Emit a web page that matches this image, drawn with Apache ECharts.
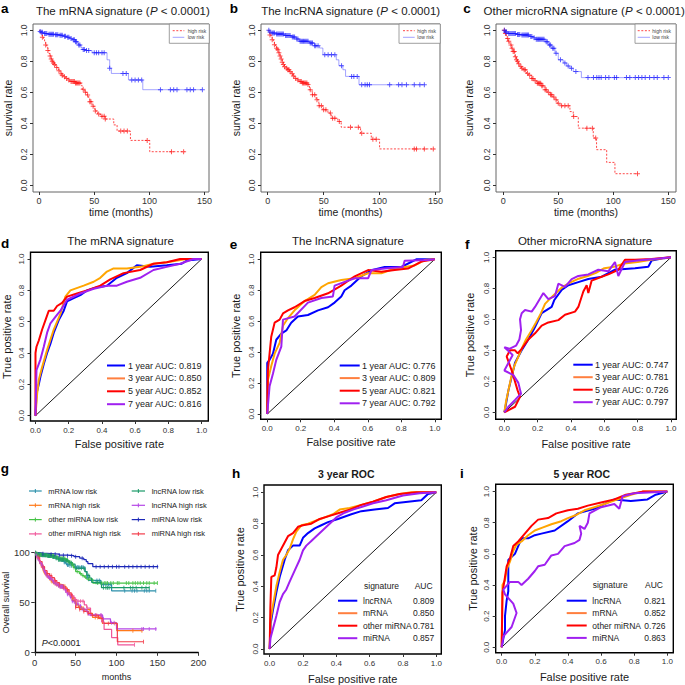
<!DOCTYPE html>
<html>
<head>
<meta charset="utf-8">
<script src="https://cdn.jsdelivr.net/npm/echarts@6.0.0/dist/echarts.min.js"></script>
<style>html,body{margin:0;padding:0;background:#fff;}#chart{width:685px;height:685px;}</style>
</head>
<body>
<div id="chart"></div>
<script>
// ================= DATA =================
const kmTicks = [0, 50, 100, 150];
const probTicks = [0, 0.2, 0.4, 0.6, 0.8, 1.0];
const gTicksX = [0, 50, 100, 150, 200];
const gTicksY = [0, 0.5, 1];

// Panel a: mRNA signature KM (time, survival)
const aHigh = [[0,1],[1,0.985],[2,0.97],[3,0.955],[4,0.94],[5,0.925],[6,0.905],[7,0.89],[8,0.87],[9,0.85],[10,0.835],[11,0.815],[12,0.8],[13,0.79],[14,0.78],[15,0.77],[16,0.76],[17,0.75],[18,0.74],[19,0.73],[20,0.72],[21,0.71],[22,0.7],[24,0.69],[26,0.68],[28,0.67],[33,0.66],[38,0.645],[39,0.62],[41,0.6],[43.5,0.583],[45,0.56],[46,0.54],[48,0.51],[50.5,0.48],[53,0.46],[55.6,0.445],[60,0.428],[67.7,0.39],[70.7,0.35],[82.8,0.29],[100.3,0.217],[132,0.217]];
const aHighCens = [3,6,8,10,11,12,13,14,16,18,20,21,23,25,27,29,30,31,32,33,34,35,36,37,40,42,44,46,47,49,51,54,57,59,60,74,77,80,98,120,131];
const aLow = [[0,1],[1,0.993],[2,0.987],[4,0.98],[8,0.975],[14,0.972],[18,0.968],[22,0.962],[25,0.955],[28,0.948],[30,0.94],[33,0.927],[35,0.915],[36,0.905],[38,0.89],[39,0.877],[42,0.87],[48,0.856],[61.6,0.81],[64,0.755],[65.5,0.722],[81,0.68],[94,0.617],[148,0.617]];
const aLowCens = [1,2,3,5,6,7,9,10,11,12,13,15,16,17,19,20,21,23,24,26,27,29,31,32,33,34,36,37,40,41,43,45,50,52,54,57,59,64,76,79,84,87,90,93,110,119,122,125,134,137,140,148];

// Panel b: lncRNA signature KM
const bHigh = [[0,1],[1,0.985],[2,0.97],[3,0.96],[4,0.94],[5,0.925],[6,0.907],[7,0.895],[8,0.885],[9,0.875],[10,0.855],[11,0.835],[12,0.815],[13,0.795],[14,0.78],[15,0.765],[16.4,0.756],[18,0.745],[19.4,0.735],[21,0.72],[22.5,0.705],[24,0.69],[26,0.68],[28.4,0.67],[31,0.66],[36,0.65],[37.3,0.616],[39.7,0.584],[43.3,0.552],[45.7,0.513],[49.3,0.487],[53.8,0.466],[56.8,0.433],[62.7,0.412],[65.7,0.375],[83,0.336],[92.6,0.297],[100,0.235],[149,0.235]];
const bHighCens = [2,4,6,8,9,10,11,12,13,14,15,17,18,19,20,22,23,25,27,29,30,31,32,33,34,35,36,38,40,42,44,46,48,50,52,56,58,60,64,74,81,84,94,97,131,133,140,148];
const bLow = [[0,1],[2,0.99],[3,0.983],[7.5,0.976],[15,0.966],[21,0.957],[25.4,0.944],[28.4,0.929],[37.3,0.918],[41.8,0.9],[46.3,0.886],[49.3,0.843],[61.3,0.81],[63.6,0.772],[67.2,0.746],[69.6,0.703],[81.6,0.649],[140.4,0.649]];
const bLowCens = [1,2,4,5,6,8,9,10,11,12,13,14,16,17,18,19,20,22,23,24,26,27,29,30,31,32,33,34,35,36,38,39,40,42,43,45,51,54,57,60,66,75,77,80,84,87,89,91,109,117,120,124,131,136,140];

// Panel c: other microRNA signature KM
const cHigh = [[0,1],[1.5,0.98],[3,0.948],[4.5,0.93],[6,0.906],[7.5,0.885],[9,0.863],[10.6,0.83],[12,0.81],[13,0.8],[14,0.785],[15,0.766],[16.5,0.755],[18,0.745],[21,0.723],[23,0.71],[25.8,0.69],[28,0.675],[30.3,0.659],[34.8,0.642],[37.9,0.616],[40,0.6],[42.4,0.584],[45,0.57],[47,0.552],[49,0.53],[51.5,0.513],[60.6,0.476],[63.6,0.444],[68.2,0.369],[81.8,0.305],[84.8,0.23],[94,0.148],[101.5,0.075],[122,0.075]];
const cHighCens = [1,2,4,5,7,8,9,10,11,12,13,14,16,17,19,20,22,24,26,27,29,31,32,33,34,35,36,38,39,41,43,44,46,48,50,53,56,59,64,76,81,84,122];
const cLow = [[0,1],[2,0.99],[4.5,0.98],[12,0.974],[16.7,0.97],[24,0.96],[27,0.953],[29,0.942],[38,0.927],[41,0.906],[44,0.884],[47,0.852],[50,0.81],[54.5,0.79],[57.6,0.77],[60.6,0.755],[63.6,0.734],[71,0.695],[150,0.695]];
const cLowCens = [1,2,3,5,6,7,8,9,10,11,13,14,15,17,18,19,20,21,22,23,25,26,28,30,31,32,33,34,35,36,37,39,40,42,43,45,46,48,52,56,59,62,66,77,82,85,87,89,93,96,101,103,112,115,120,123,126,129,133,137,140,146,150];

// Panel g extra: miRNA signature KM
const miLow = [[0,1],[5,0.995],[10,0.99],[20,0.985],[30,0.975],[40,0.97],[48,0.96],[55,0.945],[60,0.93],[63,0.91],[65,0.89],[71,0.86],[151,0.86]];
const miLowCens = [10,20,25,30,35,40,45,50,58,75,80,85,90,95,100,103,110,115,120,125,130,135,140,145,150];
const miHigh = [[0,1],[3,0.96],[6,0.91],[9,0.86],[12,0.82],[15,0.79],[18,0.77],[21,0.75],[24,0.72],[27,0.7],[30,0.68],[34,0.66],[38,0.63],[42,0.58],[46,0.52],[50,0.45],[55,0.43],[60,0.41],[65,0.39],[70,0.37],[78,0.34],[84,0.29],[101,0.106],[133,0.106]];
const miHighCens = [5,10,15,20,25,30,35,40,45,50,55,60,65,75,90,133];

// ROC curves (FPR, TPR)
const diagonal = [[0,0],[1,1]];
const d1 = [[0,0],[0.006,0.14],[0.02,0.2],[0.03,0.25],[0.05,0.33],[0.07,0.4],[0.09,0.46],[0.11,0.53],[0.14,0.61],[0.17,0.67],[0.19,0.73],[0.23,0.75],[0.27,0.77],[0.31,0.8],[0.37,0.82],[0.43,0.83],[0.49,0.88],[0.55,0.91],[0.61,0.96],[0.69,0.95],[0.79,0.96],[0.88,0.97],[0.91,0.99],[1,1]];
const d3 = [[0,0],[0.01,0.14],[0.02,0.23],[0.04,0.31],[0.07,0.42],[0.11,0.55],[0.15,0.65],[0.18,0.76],[0.21,0.8],[0.29,0.83],[0.35,0.855],[0.39,0.88],[0.43,0.92],[0.47,0.94],[0.55,0.94],[0.63,0.95],[0.71,0.97],[0.79,0.98],[0.91,1],[1,1]];
const d5 = [[0,0],[0,0.4],[0.006,0.44],[0.02,0.48],[0.04,0.55],[0.06,0.61],[0.08,0.67],[0.11,0.67],[0.13,0.7],[0.16,0.72],[0.19,0.76],[0.25,0.78],[0.31,0.8],[0.39,0.83],[0.45,0.87],[0.53,0.91],[0.63,0.93],[0.71,0.97],[0.79,0.98],[0.87,1],[1,1]];
const d7 = [[0,0],[0.006,0.29],[0.03,0.36],[0.05,0.44],[0.07,0.53],[0.09,0.59],[0.12,0.63],[0.15,0.67],[0.19,0.74],[0.27,0.78],[0.35,0.81],[0.43,0.83],[0.49,0.83],[0.55,0.855],[0.63,0.88],[0.71,0.93],[0.79,0.95],[0.87,0.97],[0.95,1],[1,1]];
const e1 = [[0,0],[0,0.33],[0.014,0.35],[0.034,0.39],[0.054,0.48],[0.084,0.52],[0.114,0.54],[0.143,0.59],[0.183,0.63],[0.243,0.64],[0.303,0.67],[0.363,0.69],[0.402,0.72],[0.442,0.76],[0.462,0.8],[0.502,0.83],[0.562,0.89],[0.622,0.93],[0.701,0.95],[0.8,0.95],[0.89,1],[1,1]];
const e3 = [[0,0],[0.004,0.22],[0.024,0.31],[0.044,0.39],[0.074,0.46],[0.094,0.57],[0.124,0.62],[0.163,0.67],[0.223,0.73],[0.283,0.77],[0.323,0.82],[0.363,0.845],[0.442,0.866],[0.522,0.877],[0.602,0.91],[0.681,0.91],[0.761,0.94],[0.88,0.96],[0.94,0.995],[1,1]];
const e5 = [[0,0],[0.004,0.28],[0.014,0.39],[0.024,0.5],[0.044,0.59],[0.074,0.61],[0.094,0.65],[0.124,0.67],[0.163,0.69],[0.223,0.73],[0.283,0.75],[0.363,0.78],[0.442,0.83],[0.522,0.89],[0.602,0.93],[0.681,0.92],[0.761,0.93],[0.84,0.94],[0.92,0.985],[1,1]];
const e7 = [[0,0],[0.014,0.18],[0.034,0.26],[0.054,0.35],[0.084,0.435],[0.094,0.61],[0.163,0.63],[0.243,0.72],[0.323,0.75],[0.392,0.76],[0.402,0.83],[0.522,0.877],[0.602,0.877],[0.622,0.93],[0.701,0.94],[0.81,0.95],[0.82,0.99],[0.96,0.995],[1,1]];
const f1 = [[0,0],[0.004,0.02],[0.024,0.14],[0.044,0.23],[0.064,0.32],[0.104,0.4],[0.144,0.47],[0.184,0.55],[0.224,0.64],[0.284,0.68],[0.3,0.725],[0.344,0.79],[0.384,0.82],[0.444,0.84],[0.504,0.86],[0.584,0.875],[0.664,0.92],[0.784,0.93],[0.864,0.94],[0.884,0.98],[0.96,0.995],[1,1]];
const f3 = [[0,0],[0.01,0.07],[0.024,0.14],[0.04,0.22],[0.06,0.3],[0.084,0.36],[0.104,0.41],[0.13,0.47],[0.164,0.53],[0.19,0.58],[0.22,0.64],[0.244,0.7],[0.28,0.74],[0.31,0.77],[0.35,0.81],[0.4,0.84],[0.44,0.86],[0.5,0.88],[0.55,0.9],[0.6,0.93],[0.66,0.94],[0.72,0.96],[0.8,0.97],[0.88,0.985],[1,1]];
const f5 = [[0,0],[0.064,0.036],[0.094,0.1],[0.08,0.14],[0.044,0.27],[0.014,0.36],[0.034,0.4],[0.064,0.4],[0.08,0.38],[0.104,0.41],[0.144,0.47],[0.184,0.51],[0.224,0.56],[0.264,0.58],[0.324,0.595],[0.364,0.63],[0.424,0.65],[0.444,0.68],[0.474,0.78],[0.494,0.82],[0.504,0.77],[0.524,0.85],[0.584,0.875],[0.624,0.89],[0.684,0.92],[0.724,0.985],[0.784,0.985],[0.884,0.99],[1,1]];
const f7 = [[0,0],[0.024,0.036],[0.064,0.08],[0.1,0.12],[0.084,0.19],[0.054,0.24],[0,0.27],[0.02,0.31],[0.05,0.37],[0,0.42],[0.03,0.41],[0.07,0.43],[0.09,0.47],[0.1,0.53],[0.094,0.6],[0.104,0.64],[0.124,0.66],[0.164,0.65],[0.184,0.68],[0.234,0.77],[0.264,0.73],[0.304,0.75],[0.324,0.83],[0.364,0.81],[0.404,0.86],[0.444,0.88],[0.504,0.89],[0.564,0.92],[0.624,0.91],[0.664,0.97],[0.684,0.88],[0.724,0.97],[0.8,0.98],[0.9,0.99],[1,1]];
const hL = [[0,0],[0.006,0.16],[0.02,0.25],[0.04,0.36],[0.06,0.46],[0.09,0.57],[0.11,0.63],[0.14,0.66],[0.18,0.66],[0.2,0.71],[0.23,0.74],[0.27,0.77],[0.31,0.79],[0.35,0.81],[0.41,0.83],[0.49,0.86],[0.55,0.88],[0.63,0.89],[0.71,0.9],[0.75,0.93],[0.83,0.94],[0.91,0.95],[0.95,0.99],[1,1]];
const hM = [[0,0],[0.006,0.19],[0.02,0.28],[0.04,0.4],[0.06,0.49],[0.08,0.57],[0.1,0.6],[0.12,0.64],[0.14,0.7],[0.16,0.75],[0.19,0.79],[0.23,0.8],[0.28,0.82],[0.33,0.84],[0.38,0.86],[0.42,0.89],[0.48,0.9],[0.55,0.92],[0.62,0.94],[0.7,0.97],[0.78,0.99],[0.85,1],[1,1]];
const hO = [[0,0],[0.004,0.26],[0.01,0.46],[0.03,0.47],[0.04,0.52],[0.05,0.6],[0.07,0.64],[0.09,0.68],[0.11,0.72],[0.14,0.74],[0.17,0.78],[0.2,0.79],[0.25,0.8],[0.3,0.83],[0.36,0.85],[0.42,0.87],[0.48,0.89],[0.55,0.92],[0.62,0.94],[0.7,0.97],[0.78,0.99],[0.88,1],[1,1]];
const hMi = [[0,0],[0.005,0.07],[0.02,0.13],[0.04,0.21],[0.06,0.3],[0.08,0.35],[0.1,0.38],[0.12,0.43],[0.15,0.5],[0.18,0.57],[0.2,0.63],[0.22,0.66],[0.25,0.69],[0.28,0.72],[0.32,0.76],[0.36,0.8],[0.4,0.84],[0.45,0.87],[0.5,0.89],[0.56,0.91],[0.62,0.93],[0.7,0.95],[0.8,0.98],[0.9,0.995],[1,1]];
const iL = [[0,0],[0.02,0.11],[0.02,0.2],[0.03,0.3],[0.04,0.36],[0.04,0.56],[0.08,0.6],[0.1,0.65],[0.12,0.7],[0.16,0.7],[0.2,0.72],[0.24,0.73],[0.32,0.75],[0.4,0.81],[0.46,0.86],[0.56,0.89],[0.68,0.95],[0.78,0.94],[0.88,0.95],[0.93,0.98],[1,1]];
const iM = [[0,0],[0.005,0.4],[0.02,0.43],[0.03,0.5],[0.05,0.55],[0.07,0.62],[0.09,0.66],[0.12,0.68],[0.16,0.72],[0.2,0.75],[0.25,0.77],[0.3,0.79],[0.36,0.81],[0.4,0.83],[0.45,0.85],[0.5,0.88],[0.56,0.9],[0.62,0.92],[0.7,0.95],[0.78,0.98],[0.85,1],[1,1]];
const iO = [[0,0],[0.005,0.35],[0.02,0.45],[0.03,0.52],[0.05,0.57],[0.07,0.65],[0.1,0.68],[0.14,0.73],[0.18,0.78],[0.22,0.82],[0.28,0.83],[0.33,0.86],[0.4,0.88],[0.46,0.89],[0.52,0.91],[0.6,0.93],[0.68,0.95],[0.75,0.98],[0.85,1],[1,1]];
const iMi = [[0,0],[0.01,0.07],[0.06,0.13],[0.09,0.22],[0.07,0.28],[0.02,0.34],[0.01,0.37],[0.05,0.42],[0.1,0.42],[0.12,0.4],[0.16,0.44],[0.2,0.49],[0.22,0.52],[0.26,0.53],[0.3,0.59],[0.34,0.6],[0.38,0.65],[0.44,0.67],[0.47,0.69],[0.48,0.73],[0.47,0.78],[0.5,0.76],[0.52,0.8],[0.53,0.86],[0.6,0.9],[0.68,0.92],[0.71,0.89],[0.73,0.97],[0.8,0.99],[1,1]];

const rocYearLabels = ['1 year AUC: ', '3 year AUC: ', '5 year AUC: ', '7 year AUC: '];
const dAUC = ['0.819', '0.850', '0.852', '0.816'];
const eAUC = ['0.776', '0.809', '0.821', '0.792'];
const fAUC = ['0.747', '0.781', '0.726', '0.797'];
const sigNames = ['lncRNA', 'mRNA', 'other miRNA', 'miRNA'];
const hAUC = ['0.809', '0.850', '0.781', '0.857'];
const iAUC = ['0.821', '0.852', '0.726', '0.863'];
const gNames = ['mRNA low risk','mRNA high risk','other miRNA low risk','other miRNA high risk','lncRNA low risk','lncRNA high risk','miRNA low risk','miRNA high risk'];

// ================= STYLE / BUILD =================
const FONT = '"Liberation Sans", Arial, Helvetica, sans-serif';
const TXT = '#1a1a1a';
const BLUE = '#0000ff', ORANGE = '#ffa500', RED = '#ff0000', PURPLE = '#a020f0';
const ORANGE_LEG = '#ff7f3f';
const rocColors = [BLUE, ORANGE, RED, PURPLE];
const rocLegColors = [BLUE, ORANGE_LEG, RED, PURPLE];
const gColors = ['#2a8faa','#ff7a1a','#45c245','#f0559a','#1a9a68','#b547e6','#1c28b8','#f23c4a'];

const grid = [], xAxis = [], yAxis = [], series = [], graphic = [];
const fmt1 = v => Number(v).toFixed(1);
const fmt0 = v => String(Math.round(v));

function addPanel(p) {
  const i = grid.length;
  const [L, T, R, B] = p.box;
  grid.push({left: L, top: T, width: R - L, height: B - T, show: !!p.frame,
    borderColor: p.frameColor || '#000', borderWidth: p.frameWidth || 1,
    backgroundColor: 'rgba(0,0,0,0)', containLabel: false});
  xAxis.push({type: 'value', gridIndex: i, min: p.x[0], max: p.x[1],
    name: p.xName, nameLocation: 'middle', nameGap: p.xGap,
    nameTextStyle: {fontFamily: FONT, fontSize: p.nameSize, color: TXT},
    axisLine: {show: !!p.axisLine, onZero: false, lineStyle: {color: '#000', width: 1.3}},
    axisTick: {show: true, inside: false, length: p.tickLen, customValues: p.xTicks, lineStyle: {color: '#333', width: 1}},
    axisLabel: {show: true, customValues: p.xTicks, formatter: p.xFmt, fontFamily: FONT, fontSize: p.xLabSize, color: '#333', margin: p.xMargin},
    splitLine: {show: false}});
  yAxis.push({type: 'value', gridIndex: i, min: p.y[0], max: p.y[1],
    name: p.yName, nameLocation: 'middle', nameGap: p.yGap,
    nameTextStyle: {fontFamily: FONT, fontSize: p.nameSize, color: TXT},
    axisLine: {show: !!p.axisLine, onZero: false, lineStyle: {color: '#000', width: 1.3}},
    axisTick: {show: true, inside: false, length: p.tickLen, customValues: p.yTicks, lineStyle: {color: '#333', width: 1}},
    axisLabel: {show: true, customValues: p.yTicks, formatter: p.yFmt, fontFamily: FONT, fontSize: p.yLabSize, color: '#333', margin: p.yMargin, rotate: p.yRot || 0},
    splitLine: {show: false}});
  return i;
}

function survAt(curve, t) {
  let s = curve[0][1];
  for (const [x, y] of curve) { if (x <= t) s = y; else break; }
  return s;
}
const PLUS = 'path://M0,4H10V6H0Z M4,0H6V10H4Z';

function kmCurve(gi, curve, cens, lineColor, lineType, lineWidth, markColor, mark, markSize) {
  series.push({type: 'line', xAxisIndex: gi, yAxisIndex: gi, data: curve, step: 'end', symbol: 'none',
    lineStyle: {color: lineColor, width: lineWidth, type: lineType}, silent: true, z: 2, animation: false});
  series.push({type: 'scatter', xAxisIndex: gi, yAxisIndex: gi, data: cens.map(t => [t, survAt(curve, t)]),
    symbol: mark, symbolSize: markSize, itemStyle: {color: markColor}, silent: true, z: 3, animation: false});
}
function rocLine(gi, data, color, width) {
  series.push({type: 'line', xAxisIndex: gi, yAxisIndex: gi, data: data, symbol: 'none',
    lineStyle: {color: color, width: width}, silent: true, z: 3, animation: false});
}
function diag(gi) {
  series.push({type: 'line', xAxisIndex: gi, yAxisIndex: gi, data: diagonal, symbol: 'none',
    lineStyle: {color: '#000', width: 0.9}, silent: true, z: 2, animation: false});
}
function txt(x, y, text, size, opts) {
  opts = opts || {};
  graphic.push({type: 'text', x: x, y: y, silent: true, style: Object.assign({text: text, fontFamily: FONT, fontSize: size,
    fill: opts.fill || TXT, fontWeight: opts.bold ? 'bold' : 'normal',
    textAlign: opts.align || 'left', textVerticalAlign: 'middle'}, opts.rich ? {rich: opts.rich} : {})});
}
function seg(x1, y1, x2, y2, color, w, dash) {
  graphic.push({type: 'line', silent: true, shape: {x1: x1, y1: y1, x2: x2, y2: y2},
    style: {stroke: color, lineWidth: w, lineDash: dash || null}});
}
const richTitle = size => ({n: {fontFamily: FONT, fontSize: size, color: TXT}, i: {fontFamily: FONT, fontSize: size, color: TXT, fontStyle: 'italic'}});

// ---------- KM panels a, b, c ----------
const kmBase = {frame: true, frameColor: '#666', frameWidth: 1, xTicks: kmTicks, yTicks: probTicks, xFmt: fmt0, yFmt: fmt1,
  tickLen: 3, xLabSize: 9, yLabSize: 8.5, xMargin: 4, yMargin: 5, yRot: 90, nameSize: 10.5,
  xName: 'time (months)', yName: 'survival rate', xGap: 14};
const gA = addPanel(Object.assign({}, kmBase, {box: [33, 24, 209, 192], x: [-5.5, 154], y: [-0.043, 1.041], yGap: 20}));
const gB = addPanel(Object.assign({}, kmBase, {box: [261, 24, 440, 192], x: [-6, 154], y: [-0.043, 1.041], yGap: 19.5}));
const gC = addPanel(Object.assign({}, kmBase, {box: [496, 24, 676, 192], x: [-6.6, 157], y: [-0.043, 1.041], yGap: 22}));
const kmSets = [[gA, aHigh, aHighCens, aLow, aLowCens], [gB, bHigh, bHighCens, bLow, bLowCens], [gC, cHigh, cHighCens, cLow, cLowCens]];
kmSets.forEach(([gi, hi, hic, lo, loc]) => {
  kmCurve(gi, hi, hic, 'rgba(255,40,40,0.85)', [2, 1.6], 1, 'rgba(255,20,20,0.9)', PLUS, 5);
  kmCurve(gi, lo, loc, 'rgba(90,90,255,0.55)', 'solid', 1, 'rgba(20,20,255,0.85)', PLUS, 5);
});
// legends a-c
[[169.3, 209.3, 172.7, 184.3, 187.7], [399, 440.3, 403, 414.7, 417.3], [635, 676, 637.7, 650, 652.3]].forEach(([bx0, bx1, l0, l1, tx]) => {
  graphic.push({type: 'rect', silent: true, shape: {x: bx0, y: 24, width: bx1 - bx0, height: 19.3}, style: {fill: '#fff', stroke: '#888', lineWidth: 0.8}});
  seg(l0, 30.7, l1, 30.7, 'rgba(255,40,40,0.85)', 1, [2, 1.6]);
  seg(l0, 37.3, l1, 37.3, 'rgba(90,90,255,0.55)', 1);
  txt(tx, 30.7, 'high risk', 5, {fill: '#444'});
  txt(tx, 37.3, 'low risk', 5, {fill: '#444'});
});
txt(122.7, 11, '{n|The mRNA signature (}{i|P}{n| < 0.0001)}', 11.5, {align: 'center', rich: richTitle(11.5)});
txt(350.5, 11, '{n|The lncRNA signature (}{i|P}{n| < 0.0001)}', 11.5, {align: 'center', rich: richTitle(11.5)});
txt(584, 11, '{n|Other microRNA signature (}{i|P}{n| < 0.0001)}', 11.5, {align: 'center', rich: richTitle(11.5)});

// ---------- ROC panels d, e, f ----------
const rocBase = {frame: true, frameColor: '#000', frameWidth: 1.4, xTicks: probTicks, yTicks: probTicks, xFmt: fmt1, yFmt: fmt1,
  tickLen: 3, xLabSize: 8, yLabSize: 8, xMargin: 5, yMargin: 5, yRot: 90, nameSize: 11,
  xName: 'False positive rate', yName: 'True positive rate'};
const gD = addPanel(Object.assign({}, rocBase, {box: [30, 252.3, 208.3, 421], x: [-0.03, 1.04], y: [-0.034, 1.043], xGap: 17.5, yGap: 18.5}));
const gE = addPanel(Object.assign({}, rocBase, {box: [260.7, 252.3, 441.3, 419.3], x: [-0.039, 1.039], y: [-0.034, 1.045], xGap: 17, yGap: 19}));
const gF = addPanel(Object.assign({}, rocBase, {box: [495.7, 250.7, 676.3, 419.3], x: [-0.052, 1.032], y: [-0.045, 1.043], xGap: 19, yGap: 20}));
[[gD, [d1, d3, d5, d7]], [gE, [e1, e3, e5, e7]], [gF, [f1, f3, f5, f7]]].forEach(([gi, curves]) => {
  diag(gi);
  curves.forEach((c, k) => rocLine(gi, c, rocColors[k], 2));
});
[[107, 125, 128, 365.5, 12.9, dAUC], [339.7, 359.7, 362, 365.5, 12.6, eAUC], [573.3, 592.7, 595, 364.7, 12.5, fAUC]].forEach(([l0, l1, tx, y0, dy, aucs]) => {
  aucs.forEach((a, k) => {
    const y = y0 + k * dy;
    seg(l0, y, l1, y, rocLegColors[k], 2);
    txt(tx, y, rocYearLabels[k] + a, 9, {fill: '#222'});
  });
});
txt(120.5, 240.7, 'The mRNA signature', 11.5, {align: 'center'});
txt(348, 240.7, 'The lncRNA signature', 11.5, {align: 'center'});
txt(585, 240.7, 'Other microRNA signature', 11.5, {align: 'center'});

// ---------- KM panel g ----------
const gG = addPanel({box: [32.7, 552.7, 198.3, 652.3], x: [0, 200], y: [0, 1], frame: false, axisLine: true,
  xTicks: gTicksX, yTicks: gTicksY, xFmt: fmt0, yFmt: v => String(Math.round(v * 100)),
  tickLen: 3.5, xLabSize: 9.5, yLabSize: 9.5, xMargin: 5, yMargin: 5, nameSize: 9,
  xName: 'months', yName: 'Overall survival', xGap: 20.5, yGap: 22});
const gCurves = [[aLow, aLowCens], [aHigh, aHighCens], [cLow, cLowCens], [cHigh, cHighCens], [bLow, bLowCens], [bHigh, bHighCens], [miLow, miLowCens], [miHigh, miHighCens]];
gCurves.forEach(([cv, cs], k) => kmCurve(gG, cv, cs, gColors[k], 'solid', 1.2, gColors[k], 'rect', [1, 4]));
gNames.forEach((nm, k) => {
  const col = k < 4 ? 0 : 1, row = k % 4;
  const l0 = col ? 131.7 : 29, l1 = col ? 145 : 41.7, tx = col ? 151.7 : 48.3;
  const y = 491 + row * 14.3;
  seg(l0, y, l1, y, gColors[k], 1.2);
  seg((l0 + l1) / 2, y - 2, (l0 + l1) / 2, y + 2, gColors[k], 1);
  txt(tx, y, nm, 7.5, {fill: '#222'});
});
txt(41.7, 642.7, '{i|P}{n|<0.0001}', 9, {rich: richTitle(9)});

// ---------- ROC panels h, i ----------
const gH = addPanel(Object.assign({}, rocBase, {box: [264, 485, 441.3, 654], x: [-0.034, 1.03], y: [-0.032, 1.047], xGap: 19, yGap: 19}));
const gI = addPanel(Object.assign({}, rocBase, {box: [495.7, 484.3, 673.3, 652.7], x: [-0.036, 1.036], y: [-0.035, 1.047], xGap: 19, yGap: 17}));
[[gH, [hL, hM, hO, hMi]], [gI, [iL, iM, iO, iMi]]].forEach(([gi, curves]) => {
  diag(gi);
  curves.forEach((c, k) => rocLine(gi, c, rocColors[k], 2));
});
[[338, 357.3, 363, 413, 364, 414.7, 586, 600.7, 12.5, hAUC], [566.7, 586.7, 592.3, 644.3, 592.7, 645, 585, 600.7, 12.4, iAUC]].forEach(([l0, l1, tx, ax, hx, hax, hy, y0, dy, aucs]) => {
  txt(hx, hy, 'signature', 8.5, {fill: '#222'});
  txt(hax, hy, 'AUC', 8.5, {fill: '#222'});
  aucs.forEach((a, k) => {
    const y = y0 + k * dy;
    seg(l0, y, l1, y, rocLegColors[k], 2);
    txt(tx, y, sigNames[k], 8.5, {fill: '#222'});
    txt(ax, y, a, 8.5, {fill: '#222'});
  });
});
txt(346.3, 474.3, '3 year ROC', 10.5, {align: 'center', bold: true});
txt(581.7, 474.3, '5 year ROC', 10.5, {align: 'center', bold: true});

// ---------- panel letters ----------
[['a', 1, 8], ['b', 229.7, 8], ['c', 463.3, 8.5], ['d', 1, 243.7], ['e', 229.7, 244.2], ['f', 465, 244.7], ['g', 0.7, 468.7], ['h', 232, 473], ['i', 460, 473]].forEach(([l, x, y]) => {
  txt(x, y, l, 13.5, {bold: true, fill: '#000'});
});

const chart = echarts.init(document.getElementById('chart'), null, {renderer: 'svg', width: 685, height: 685});
chart.setOption({animation: false, backgroundColor: '#fff', grid: grid, xAxis: xAxis, yAxis: yAxis, series: series, graphic: graphic});
</script>
</body>
</html>
